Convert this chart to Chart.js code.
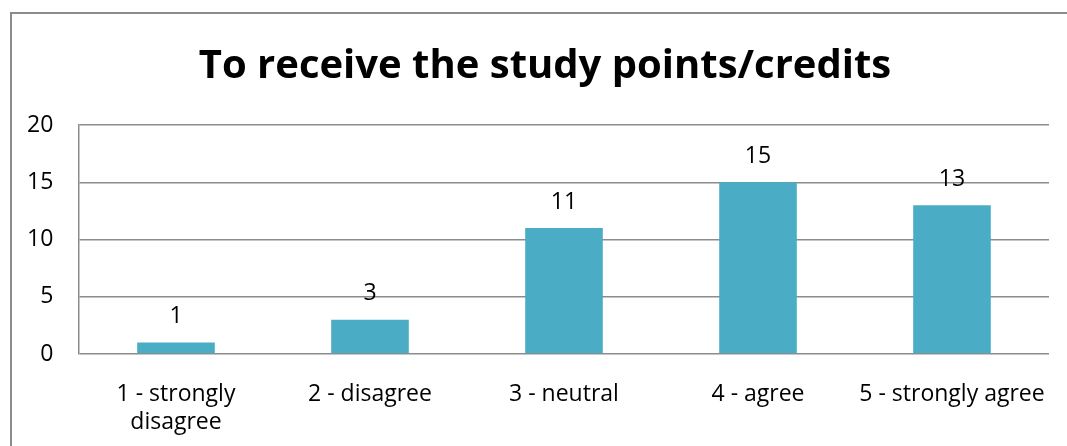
<!DOCTYPE html>
<html>
<head>
<meta charset="utf-8">
<script src="https://cdn.jsdelivr.net/npm/chart.js@4/dist/chart.umd.min.js"></script>
<style>
  html, body { margin: 0; padding: 0; background: #fff; overflow: hidden; }
  #frame { position: absolute; left: 10px; top: 12px; width: 1100px; height: 500px; border: 2px solid #8c8c8c; }
  #wrap { position: absolute; left: 0; top: 0; width: 1067px; height: 446px; }
</style>
</head>
<body>
<div id="frame"></div>
<div id="wrap"><canvas id="myChart" width="1067" height="446"></canvas></div>
<script>
const categories = [["1 - strongly", "disagree"], "2 - disagree", "3 - neutral", "4 - agree", "5 - strongly agree"];
const responses = [1, 3, 11, 15, 13];
const yTicks = [0, 5, 10, 15, 20];

const FONT = '"Open Sans", "Liberation Sans", sans-serif';
const gridColor = "#8c8c8c";

// numbers printed above each bar
const valueLabels = {
  id: "valueLabels",
  afterDatasetsDraw(chart) {
    const ctx = chart.ctx;
    const meta = chart.getDatasetMeta(0);
    ctx.save();
    ctx.font = "23px " + FONT;
    ctx.fillStyle = "#000";
    ctx.textAlign = "center";
    ctx.textBaseline = "middle";
    meta.data.forEach((bar, i) => {
      ctx.fillText(String(responses[i]), bar.x, bar.y - 26);
    });
    ctx.restore();
  },
};

const ctx = document.getElementById("myChart").getContext("2d");
const myChart = new Chart(ctx, {
  type: "bar",
  data: {
    labels: categories,
    datasets: [
      {
        label: "responses",
        data: responses,
        backgroundColor: "#4BACC6",
        categoryPercentage: 1,
        barPercentage: 0.4,
      },
    ],
  },
  options: {
    responsive: false,
    animation: false,
    layout: { padding: { left: 41, right: 18, top: 0, bottom: 0 } },
    plugins: {
      legend: { display: false },
      tooltip: { enabled: false },
      title: {
        display: true,
        text: "To receive the study points/credits",
        color: "#000",
        font: { family: FONT, size: 40, weight: "bold", lineHeight: 1.2 },
        padding: { top: 43, bottom: 34 },
      },
    },
    scales: {
      x: {
        grid: { display: false, drawTicks: false },
        border: { display: false },
        ticks: {
          color: "#000",
          font: { family: FONT, size: 23, lineHeight: 1.22 },
          padding: 26,
          maxRotation: 0,
          autoSkip: false,
        },
        afterFit: (scale) => {
          scale.height = 92;
          // let the long last label run past the plot edge
          scale.paddingLeft = 0;
          scale.paddingRight = 0;
        },
      },
      y: {
        min: 0,
        max: 20,
        afterBuildTicks: (scale) => { scale.ticks = yTicks.map((v) => ({ value: v })); },
        grid: { color: gridColor, lineWidth: 1.5, drawTicks: false },
        border: { display: true, color: gridColor, width: 1.5 },
        ticks: {
          color: "#000",
          font: { family: FONT, size: 23 },
          // mirrored + negative padding so the labels sit left of the narrow axis box unclipped
          mirror: true,
          crossAlign: "far",
          padding: -52,
        },
        afterFit: (scale) => { scale.width = 38; },
      },
    },
  },
  plugins: [valueLabels],
});
</script>
</body>
</html>
